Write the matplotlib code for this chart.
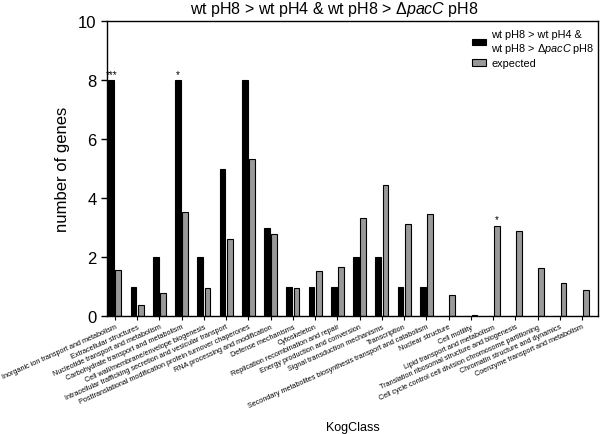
import numpy as np
import matplotlib.pyplot as plt

plt.rcParams["font.family"] = ["Liberation Sans", "DejaVu Sans"]
plt.rcParams["mathtext.fontset"] = "custom"
plt.rcParams["mathtext.rm"] = "Liberation Sans"
plt.rcParams["mathtext.it"] = "Liberation Sans:italic"

categories = [
    "Inorganic ion transport and metabolism",
    "Extracellular structures",
    "Nucleotide transport and metabolism",
    "Carbohydrate transport and metabolism",
    "Cell wall/membrane/envelope biogenesis",
    "Intracellular trafficking secretion and vesicular transport",
    "Posttranslational modification protein turnover chaperones",
    "RNA processing and modification",
    "Defense mechanisms",
    "Cytoskeleton",
    "Replication recombination and repair",
    "Energy production and conversion",
    "Signal transduction mechanisms",
    "Transcription",
    "Secondary metabolites biosynthesis transport and catabolism",
    "Nuclear structure",
    "Cell motility",
    "Lipid transport and metabolism",
    "Translation ribosomal structure and biogenesis",
    "Cell cycle control cell division chromosome partitioning",
    "Chromatin structure and dynamics",
    "Coenzyme transport and metabolism",
]
observed = [8, 1, 2, 8, 2, 5, 8, 3, 1, 1, 1, 2, 2, 1, 1, 0, 0, 0, 0, 0, 0, 0]
expected = [1.58, 0.38, 0.79, 3.54, 0.96, 2.62, 5.33, 2.79, 0.96, 1.52, 1.66,
            3.34, 4.43, 3.14, 3.47, 0.73, 0.03, 3.06, 2.87, 1.63, 1.11, 0.9]
# (category index, which series, text)
stars = [(0, "obs", "***"), (3, "obs", "*"), (17, "exp", "*")]

fig = plt.figure(figsize=(6, 4.35), dpi=100)
ax = fig.add_axes([0.178, 0.271, 0.819, 0.678])

x = np.arange(len(categories))
w = 0.26
off = 0.16
obs_label = "wt pH8 > wt pH4 &\nwt pH8 > Δ$\\mathit{pacC}$ pH8"
ax.bar(x - off, observed, width=w, color="black", edgecolor="black",
       linewidth=0.8, label=obs_label)
ax.bar(x + off, expected, width=w, color="#999999", edgecolor="black",
       linewidth=0.8, label="expected")

for i, series, txt in stars:
    if series == "obs":
        ax.text(x[i] - off, observed[i] + 0.05, txt, ha="center", va="bottom", fontsize=7)
    else:
        ax.text(x[i] + off, expected[i] + 0.05, txt, ha="center", va="bottom", fontsize=7)

ax.set_xlim(-0.36, len(categories) - 1 + 0.72)
ax.set_ylim(0, 10)
ax.set_yticks([0, 2, 4, 6, 8, 10])
ax.tick_params(axis="y", labelsize=12, direction="out", length=4, width=1)
ax.set_xticks(x)
ax.set_xticklabels(categories, rotation=24, ha="right", rotation_mode="anchor", fontsize=5.2)
ax.tick_params(axis="x", direction="out", length=3, width=0.8, pad=2)
for s in ax.spines.values():
    s.set_linewidth(1)

ax.set_ylabel("number of genes", fontsize=12)
ax.yaxis.set_label_coords(-0.075, 0.5)
ax.set_xlabel("KogClass", fontsize=9)
ax.xaxis.set_label_coords(0.5, -0.376)
ax.xaxis.label.set_va("center")
ax.set_title("wt pH8 > wt pH4 & wt pH8 > Δ$\\mathit{pacC}$ pH8", fontsize=11.5,
             x=0.464, pad=6)

ax.legend(loc="upper right", bbox_to_anchor=(1.0, 0.985), frameon=False,
          fontsize=7.8, handlelength=1.3, handleheight=0.55, handletextpad=0.5,
          borderaxespad=0.1, borderpad=0.2, labelspacing=0.3)

fig.savefig("out.png", dpi=100)
